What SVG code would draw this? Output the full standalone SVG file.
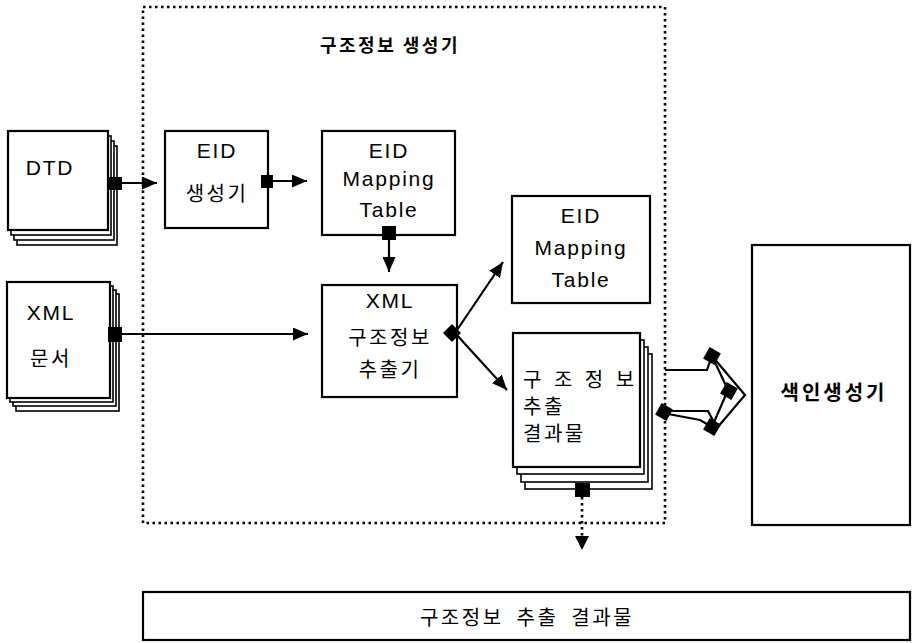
<svg xmlns="http://www.w3.org/2000/svg" width="912" height="643" viewBox="0 0 912 643">
<defs>
<style>
.box{fill:#fff;stroke:#000;stroke-width:2.2}
.sheet{fill:#fff;stroke:#000;stroke-width:1.6}
.lat{font-family:"Liberation Sans",Arial,sans-serif;font-size:21px;letter-spacing:1.8px;fill:#000;text-anchor:middle}
.kr{font-family:"Noto Sans CJK KR","Noto Sans",sans-serif;font-size:20px;letter-spacing:2.5px;fill:#000;text-anchor:middle}
.krb{font-family:"Noto Sans CJK KR","Noto Sans",sans-serif;font-weight:bold;fill:#000;text-anchor:middle}
.ln{stroke:#000;stroke-width:2.2;fill:none}
.dot{stroke:#000;stroke-width:2.6;fill:none;stroke-dasharray:2.5 3.5}
.sq{fill:#000}
</style>
<marker id="arr" markerUnits="userSpaceOnUse" markerWidth="15" markerHeight="13" refX="15" refY="6.5" orient="auto" viewBox="0 0 15 13">
<path d="M0,0 L15,6.5 L0,13 z" fill="#000" stroke="none"/>
</marker>
</defs>
<rect width="912" height="643" fill="#fff"/>

<g id="generator-frame">
<rect class="dot" x="143" y="7" width="522" height="516"/>
<text class="krb" x="390" y="52" font-size="18" letter-spacing="2.5">구조정보 생성기</text>
</g>

<g id="dtd">
<rect class="sheet" x="17" y="146" width="100" height="99"/>
<rect class="sheet" x="14" y="141" width="100" height="99"/>
<rect class="sheet" x="11" y="136" width="100" height="99"/>
<rect class="box" x="8" y="131" width="100" height="99"/>
<text class="lat" x="50" y="175">DTD</text>
</g>

<g id="xml-doc">
<rect class="sheet" x="16" y="294" width="103" height="117"/>
<rect class="sheet" x="13" y="290" width="103" height="116"/>
<rect class="sheet" x="10" y="286" width="103" height="116"/>
<rect class="box" x="7" y="282" width="103" height="116"/>
<text class="lat" x="51" y="320">XML</text>
<text class="kr" x="51" y="366">문서</text>
</g>

<g id="eid-gen">
<rect class="box" x="165" y="131" width="103" height="97"/>
<text class="lat" x="217" y="158">EID</text>
<text class="kr" x="217" y="201">생성기</text>
</g>

<g id="eid-table-1">
<rect class="box" x="322" y="131" width="133" height="104"/>
<text class="lat" x="389" y="158">EID</text>
<text class="lat" x="389" y="186">Mapping</text>
<text class="lat" x="389" y="217">Table</text>
</g>

<g id="xml-extractor">
<rect class="box" x="322" y="285" width="135" height="112"/>
<text class="lat" x="390" y="308">XML</text>
<text class="kr" x="390" y="345" font-size="21" letter-spacing="2.5">구조정보</text>
<text class="kr" x="390" y="377">추출기</text>
</g>

<g id="eid-table-2">
<rect class="box" x="512" y="196" width="138" height="107"/>
<text class="lat" x="581" y="223">EID</text>
<text class="lat" x="581" y="255">Mapping</text>
<text class="lat" x="581" y="287">Table</text>
</g>

<g id="extract-result-stack">
<rect class="sheet" x="525" y="354" width="127" height="135"/>
<rect class="sheet" x="521" y="347" width="127" height="135"/>
<rect class="sheet" x="517" y="340" width="127" height="134"/>
<rect class="box" x="513" y="333" width="127" height="134"/>
<text class="kr" x="523" y="387" style="text-anchor:start" font-size="20" letter-spacing="1" word-spacing="3">구 조 정 보</text>
<text class="kr" x="523" y="414" style="text-anchor:start" letter-spacing="1">추출</text>
<text class="kr" x="523" y="441" style="text-anchor:start" letter-spacing="1">결과물</text>
</g>

<g id="indexer">
<rect class="box" x="752" y="245" width="158" height="280"/>
<text class="krb" x="834" y="400" font-size="20" letter-spacing="3">색인생성기</text>
</g>

<g id="result-bar">
<rect class="box" x="143" y="592" width="767" height="48"/>
<text class="kr" x="527" y="625" font-size="19" letter-spacing="4" word-spacing="6">구조정보 추출 결과물</text>
</g>

<g id="connectors">
<line class="ln" x1="122" y1="183" x2="157" y2="183" marker-end="url(#arr)"/>
<rect class="sq" x="108" y="177" width="14" height="13"/>
<line class="ln" x1="273" y1="181" x2="307" y2="181" marker-end="url(#arr)"/>
<rect class="sq" x="261" y="175" width="12" height="13"/>
<line class="ln" x1="389" y1="240" x2="389" y2="272" marker-end="url(#arr)"/>
<rect class="sq" x="382" y="226" width="14" height="14"/>
<line class="ln" x1="122" y1="334" x2="308" y2="334" marker-end="url(#arr)"/>
<rect class="sq" x="108" y="327" width="14" height="15"/>
<line class="ln" x1="455" y1="333" x2="503" y2="262" marker-end="url(#arr)"/>
<line class="ln" x1="455" y1="333" x2="507" y2="390" marker-end="url(#arr)"/>
<polygon class="sq" points="443,333 452,324 461,333 452,342"/>
<line class="dot" x1="582" y1="497" x2="582" y2="538"/>
<path d="M575,536 L589,536 L582,550 z" fill="#000"/>
<rect class="sq" x="575" y="483" width="15" height="14"/>
<path class="ln" stroke-width="1.6" d="M665,370 L707,370 L712,356 L745,395 L717,428 L708,411 L665,411"/>
<path class="ln" stroke-width="1.4" d="M712,356 L728,390 L712,427 M668,414 L700,420 L712,427"/>
<rect class="sq" x="-6.5" y="-6.5" width="13" height="13" transform="translate(712,356) rotate(30)"/>
<rect class="sq" x="-6.5" y="-6.5" width="13" height="13" transform="translate(729,391) rotate(30)"/>
<rect class="sq" x="-6.5" y="-6.5" width="13" height="13" transform="translate(712,427) rotate(30)"/>
<rect class="sq" x="-6.5" y="-6.5" width="13" height="13" transform="translate(664,412) rotate(30)"/>
</g>
</svg>
